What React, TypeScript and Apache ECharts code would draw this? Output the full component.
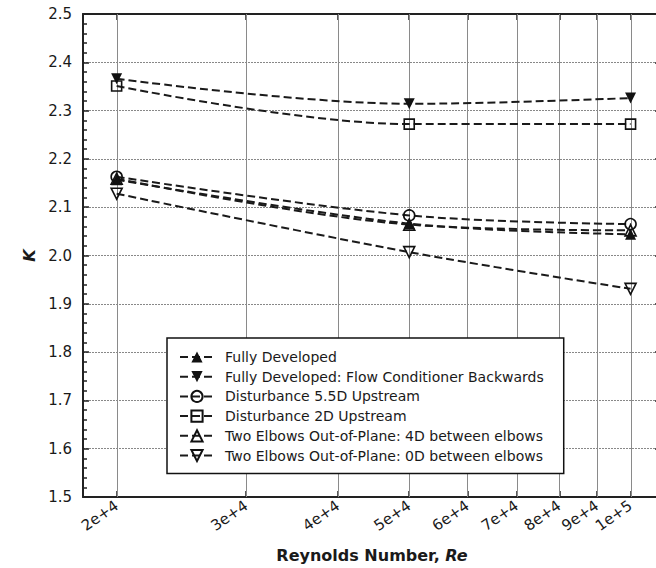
import React, { useEffect, useRef } from "react";
import * as echarts from "echarts";

const reynolds = [20000, 50000, 100000];
const fullyDeveloped = [2.157, 2.066, 2.044];
const fullyDevelopedBackwards = [2.366, 2.314, 2.326];
const disturbance55D = [2.163, 2.083, 2.065];
const disturbance2D = [2.351, 2.272, 2.272];
const elbows4D = [2.159, 2.064, 2.052];
const elbows0D = [2.128, 2.007, 1.931];
const xTickValues = [20000, 30000, 40000, 50000, 60000, 70000, 80000, 90000, 100000];
const yRange = [1.5, 2.5];

const seriesNames = [
  "Fully Developed",
  "Fully Developed: Flow Conditioner Backwards",
  "Disturbance 5.5D Upstream",
  "Disturbance 2D Upstream",
  "Two Elbows Out-of-Plane: 4D between elbows",
  "Two Elbows Out-of-Plane: 0D between elbows",
];

const FONT = "DejaVu Sans";
const GRID_STYLE = { stroke: "#8a8a8a", lineWidth: 1, lineDash: [2, 1] };

function fmtX(v: number) {
  const e = Math.floor(Math.log10(v) + 1e-9);
  const m = Math.round(v / Math.pow(10, e));
  return m + "e+" + e;
}

export default function App() {
  const ref = useRef<HTMLDivElement>(null);
  useEffect(() => {
    if (!ref.current) return;
    const chart = echarts.init(ref.current, null, { renderer: "svg" });
    const mk = (
      name: string,
      vals: number[],
      symbol: string,
      filled: boolean,
      rotate: number
    ) => ({
      name,
      type: "line",
      xAxisIndex: 0,
      yAxisIndex: 0,
      data: reynolds.map((x, i) => [x, vals[i]]),
      smooth: 0.35,
      symbol,
      symbolSize: symbol === "rect" ? 10 : 11,
      symbolRotate: rotate,
      showAllSymbol: true,
      color: "#111",
      lineStyle: { color: "#1a1a1a", width: 2, type: [8, 4] },
      itemStyle: {
        color: filled ? "#111" : "rgba(255,255,255,0)",
        borderColor: "#111",
        borderWidth: filled ? 0 : 1.6,
      },
      emphasis: { disabled: true },
      z: 3,
    });
    const tickCfg = {
      show: true,
      inside: true,
      length: 6,
      lineStyle: { color: "#222", width: 1.5 },
    };
    const series: any[] = [
      mk(seriesNames[0], fullyDeveloped, "triangle", true, 0),
      mk(seriesNames[1], fullyDevelopedBackwards, "triangle", true, 180),
      mk(seriesNames[2], disturbance55D, "circle", false, 0),
      mk(seriesNames[3], disturbance2D, "rect", false, 0),
      mk(seriesNames[4], elbows4D, "triangle", false, 0),
      mk(seriesNames[5], elbows0D, "triangle", false, 180),
      {
        // vertical grid lines; shares a legend name so it is never filtered out
        name: seriesNames[0],
        type: "custom",
        xAxisIndex: 0,
        yAxisIndex: 0,
        silent: true,
        clip: false,
        z: 1,
        data: xTickValues.map((v) => [v, yRange[0]]),
        encode: { x: 0, y: 1 },
        renderItem: (params: any, api: any) => {
          const v = api.value(0);
          const p0 = api.coord([v, yRange[0]]);
          const p1 = api.coord([v, yRange[1]]);
          const x = Math.round(p0[0]) + 0.5;
          return {
            type: "line",
            shape: { x1: x, y1: p0[1], x2: x, y2: p1[1] },
            style: { ...GRID_STYLE },
          };
        },
      },
    ];
    chart.setOption({
      animation: false,
      backgroundColor: "#fff",
      grid: { left: 83, top: 14, right: 7, bottom: 71, containLabel: false },
      legend: {
        orient: "vertical",
        left: 167,
        top: 338,
        padding: [12, 20, 11, 12],
        itemGap: 5.7,
        itemWidth: 34,
        itemHeight: 14,
        backgroundColor: "#fff",
        borderColor: "#111",
        borderWidth: 1.5,
        z: 10,
        textStyle: { fontFamily: FONT, fontSize: 14, color: "#1a1a1a", padding: [0, 0, 0, 6] },
        data: seriesNames,
      },
      xAxis: [
        {
          type: "log",
          min: 18000,
          max: 110000,
          name: "{b|Reynolds Number, }{bi|Re}",
          nameLocation: "middle",
          nameGap: 50,
          nameTextStyle: {
            rich: {
              b: { fontFamily: FONT, fontSize: 16, fontWeight: "bold", color: "#1a1a1a" },
              bi: { fontFamily: FONT, fontSize: 16, fontWeight: "bold", fontStyle: "italic", color: "#1a1a1a" },
            },
          },
          axisLine: { show: true, lineStyle: { color: "#222", width: 2 } },
          axisTick: { ...tickCfg, customValues: xTickValues },
          minorTick: { show: false },
          axisLabel: {
            customValues: xTickValues,
            formatter: (v: number) => fmtX(v),
            rotate: 35,
            margin: 7,
            fontFamily: FONT,
            fontSize: 15,
            color: "#1a1a1a",
          },
          splitLine: { show: false },
        },
        {
          type: "log",
          position: "top",
          min: 18000,
          max: 110000,
          axisLine: { show: true, lineStyle: { color: "#222", width: 2 } },
          axisTick: { ...tickCfg, customValues: xTickValues },
          axisLabel: { show: false },
          splitLine: { show: false },
        },
      ],
      yAxis: [
        {
          type: "value",
          min: yRange[0],
          max: yRange[1],
          interval: 0.1,
          name: "K",
          nameLocation: "middle",
          nameGap: 44,
          nameRotate: 90,
          nameTextStyle: {
            fontFamily: FONT,
            fontSize: 16,
            fontWeight: "bold",
            fontStyle: "italic",
            color: "#1a1a1a",
          },
          axisLine: { show: true, lineStyle: { color: "#222", width: 2 } },
          axisTick: tickCfg,
          minorTick: {
            show: true,
            splitNumber: 5,
            length: 4,
            lineStyle: { color: "#222", width: 1.5 },
          },
          axisLabel: {
            formatter: (v: number) => v.toFixed(1),
            margin: 11,
            fontFamily: FONT,
            fontSize: 15,
            color: "#1a1a1a",
          },
          splitLine: { show: true, lineStyle: { color: "#888", width: 1, type: [2, 1] } },
        },
        {
          type: "value",
          position: "right",
          min: yRange[0],
          max: yRange[1],
          interval: 0.1,
          axisLine: { show: true, lineStyle: { color: "#222", width: 2 } },
          axisTick: tickCfg,
          axisLabel: { show: false },
          splitLine: { show: false },
        },
      ],
      series,
    });

    // Fallback: grid lines placed through the axes' own scales.
    const yTop = chart.convertToPixel({ yAxisIndex: 0 }, yRange[1]) as number;
    const yBot = chart.convertToPixel({ yAxisIndex: 0 }, yRange[0]) as number;
    const lines = xTickValues.map((v) => {
      const px = chart.convertToPixel({ xAxisIndex: 0 }, v) as number;
      const x = Math.round(px) + 0.5;
      return {
        type: "line",
        silent: true,
        z: 1,
        shape: { x1: x, y1: yTop, x2: x, y2: yBot },
        style: { ...GRID_STYLE },
      };
    });
    if (lines.every((l) => isFinite(l.shape.x1)) && isFinite(yTop) && isFinite(yBot)) {
      chart.setOption({ graphic: lines });
    }
    return () => chart.dispose();
  }, []);
  return (
    <div style={{ position: "fixed", left: 0, top: 0, width: 656, height: 568, overflow: "hidden", background: "#fff" }}>
      <div ref={ref} style={{ position: "absolute", left: 0, top: 0, width: 668, height: 568 }} />
    </div>
  );
}
